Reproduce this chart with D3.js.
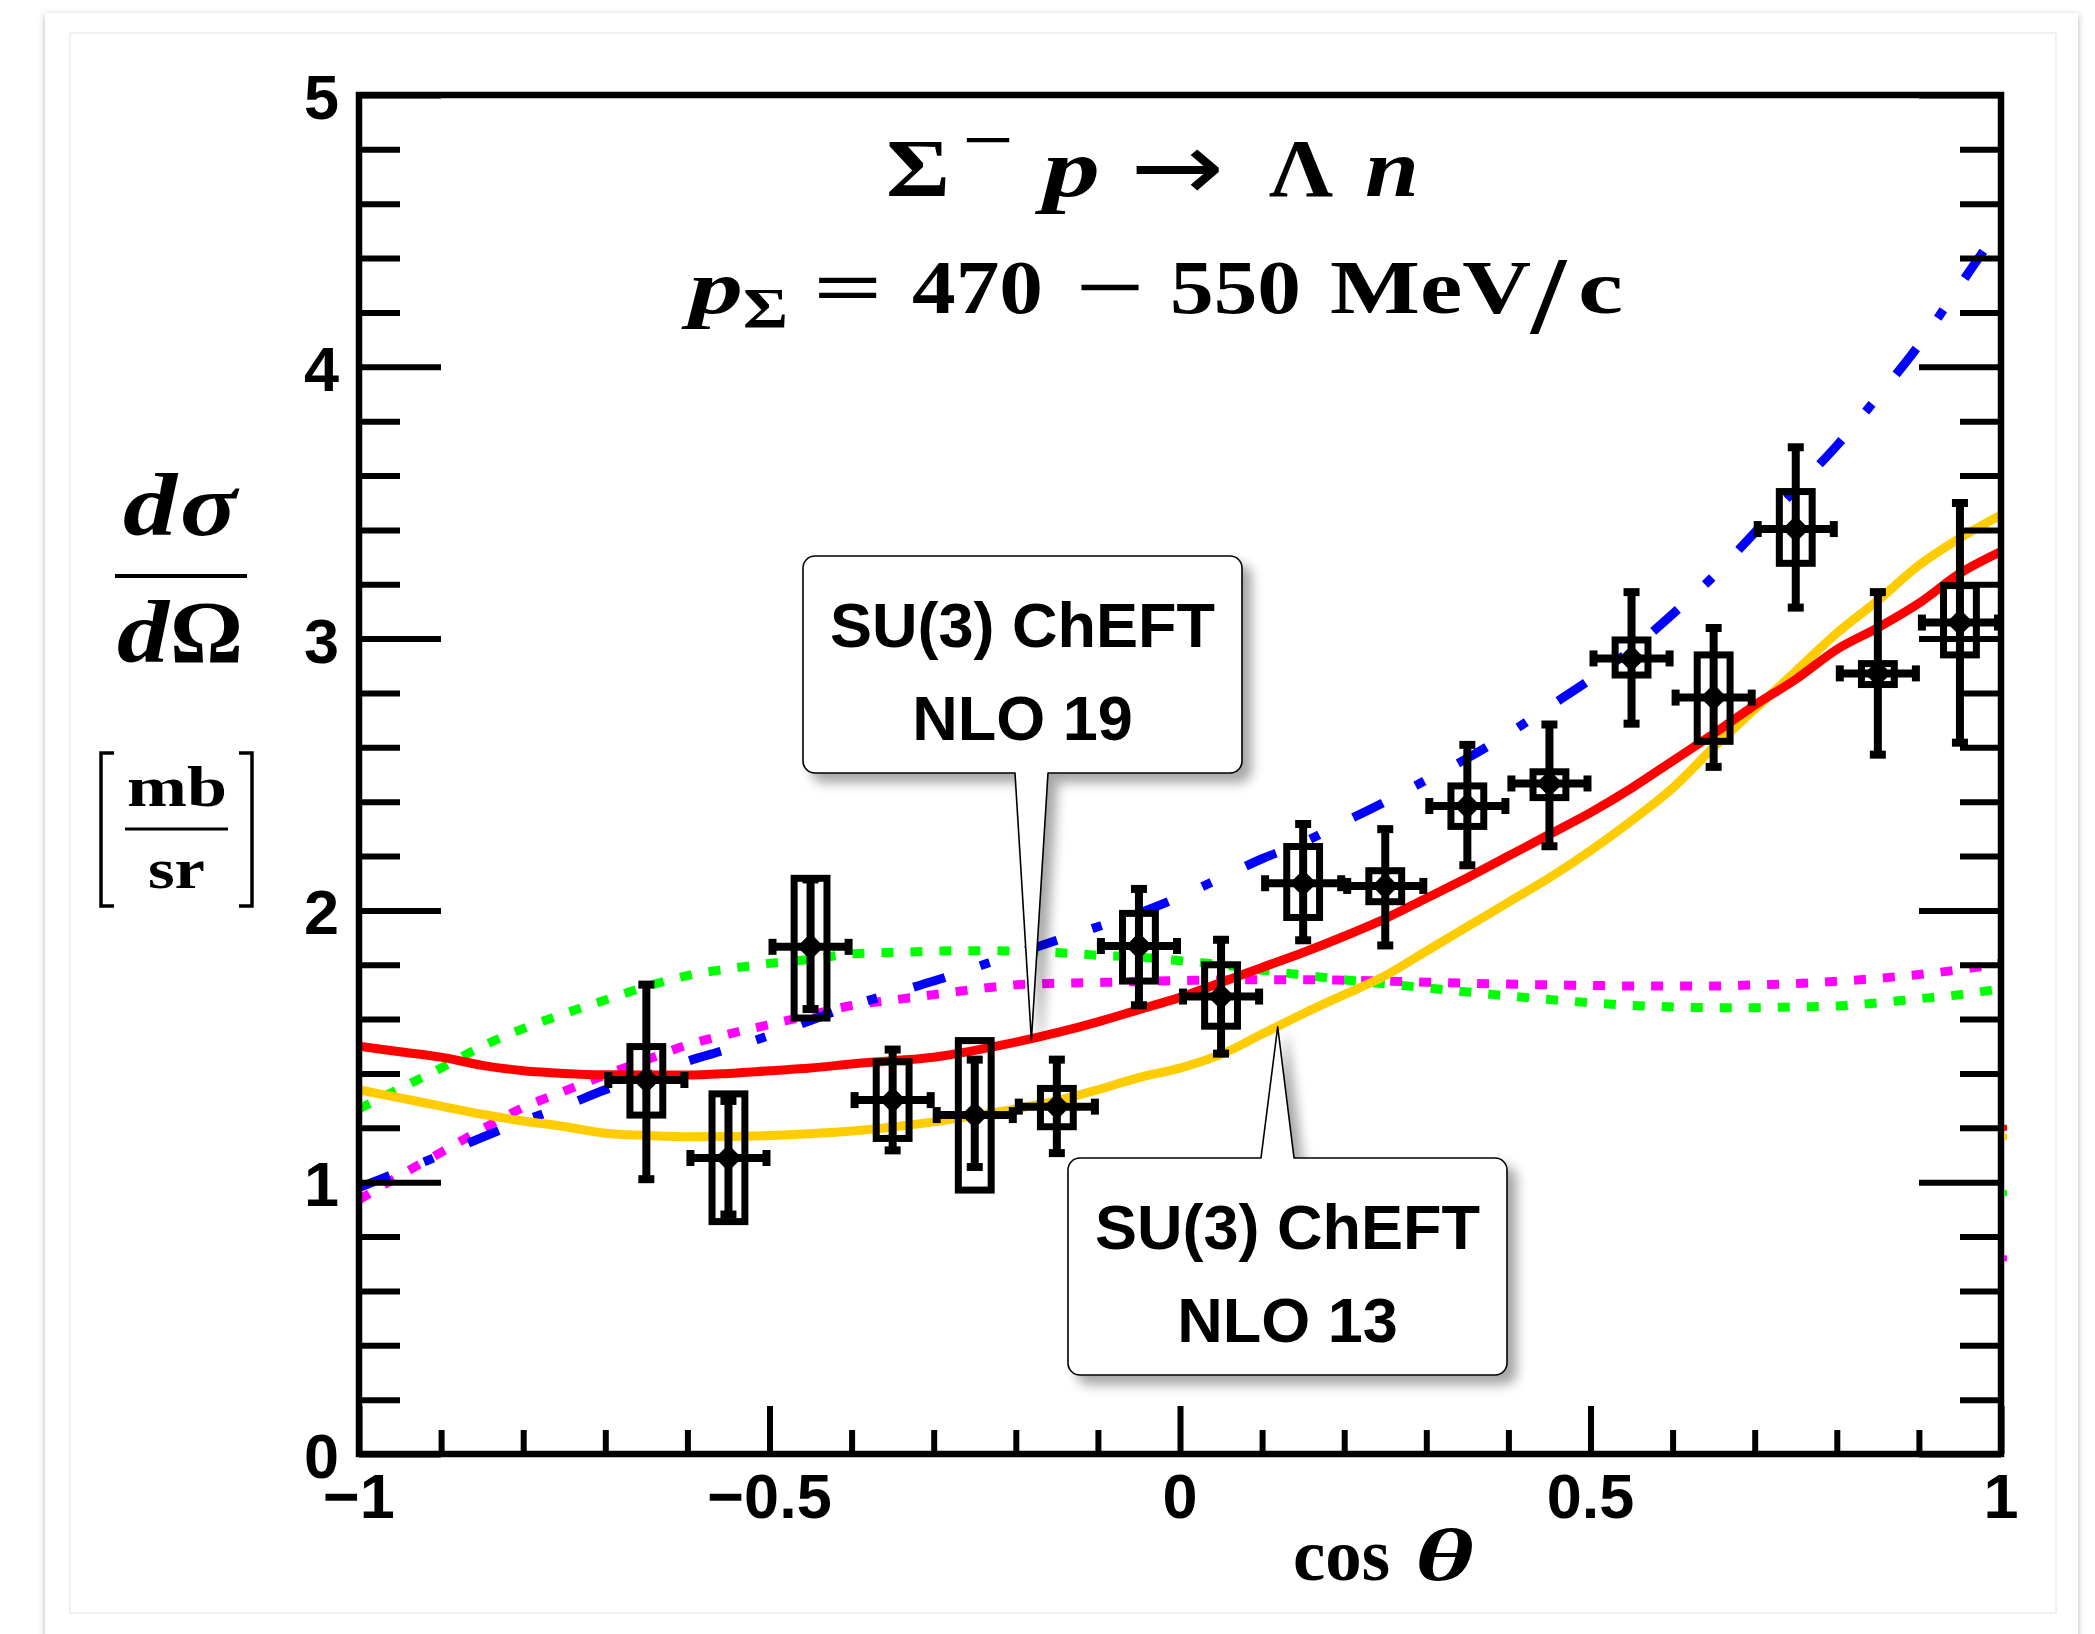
<!DOCTYPE html>
<html lang="en">
<head>
<meta charset="UTF-8" />
<title>Sigma- p -> Lambda n, differential cross section</title>
<script src="https://d3js.org/d3.v7.min.js"></script>
<style>
body {
    margin: 0;
    padding: 0;
    background: #fff;
}
svg { display: block; }
.tick-label {
    font-family: "Liberation Sans", Arial, Helvetica, sans-serif;
    font-weight: bold;
    font-size: 63px;
    fill: #000;
}
.math {
    font-family: "Liberation Serif", "Times New Roman", serif;
    font-weight: bold;
    fill: #000;
}
.callout-text {
    font-family: "Liberation Sans", Arial, Helvetica, sans-serif;
    font-weight: bold;
    font-size: 63px;
    fill: #000;
}
</style>
</head>
<body>
<svg id="chart" width="2095" height="1634"></svg>

<script>
// ---- data ----
const curveX = [-1.00, -0.95, -0.90, -0.85, -0.80, -0.75, -0.70, -0.65, -0.60, -0.55, -0.50,
                -0.45, -0.40, -0.35, -0.30, -0.25, -0.20, -0.15, -0.10, -0.05, 0.00,
                 0.05,  0.10,  0.15,  0.20,  0.25,  0.30,  0.35,  0.40,  0.45, 0.50,
                 0.55,  0.60,  0.65,  0.70,  0.75,  0.80,  0.85,  0.90,  0.95, 1.00];

// SU(3) ChEFT NLO19 (red)
const nlo19 = [1.50, 1.48, 1.46, 1.43, 1.41, 1.40, 1.395, 1.394, 1.394, 1.40, 1.41,
               1.42, 1.435, 1.447, 1.46, 1.485, 1.515, 1.55, 1.59, 1.635, 1.68,
               1.735, 1.79, 1.845, 1.905, 1.97, 2.045, 2.12, 2.20, 2.28, 2.36,
               2.45, 2.55, 2.65, 2.755, 2.85, 2.96, 3.04, 3.13, 3.24, 3.32];

// SU(3) ChEFT NLO13 (yellow)
const nlo13 = [1.34, 1.31, 1.28, 1.25, 1.225, 1.205, 1.18, 1.172, 1.167, 1.168, 1.172,
               1.178, 1.188, 1.203, 1.222, 1.245, 1.27, 1.30, 1.34, 1.385, 1.42,
               1.47, 1.545, 1.62, 1.69, 1.76, 1.85, 1.94, 2.03, 2.12, 2.22,
               2.33, 2.45, 2.60, 2.74, 2.88, 3.02, 3.14, 3.27, 3.37, 3.455];

// other models (blue dash-dot, green dotted, magenta dotted)
const modelBlue = [0.98, 1.04, 1.10, 1.165, 1.225, 1.28, 1.34, 1.39, 1.445, 1.49, 1.54,
                   1.595, 1.65, 1.695, 1.74, 1.79, 1.84, 1.89, 1.94, 1.99, 2.05,
                   2.12, 2.19, 2.25, 2.325, 2.40, 2.48, 2.56, 2.65, 2.75, 2.85,
                   2.96, 3.09, 3.23, 3.39, 3.55, 3.71, 3.89, 4.08, 4.30, 4.52];

const modelGreen = [1.27, 1.345, 1.42, 1.50, 1.565, 1.62, 1.67, 1.72, 1.76, 1.785, 1.805,
                    1.82, 1.84, 1.845, 1.85, 1.852, 1.85, 1.845, 1.835, 1.828, 1.815,
                    1.80, 1.78, 1.762, 1.745, 1.73, 1.715, 1.70, 1.685, 1.672, 1.66,
                    1.65, 1.645, 1.642, 1.642, 1.645, 1.648, 1.66, 1.675, 1.69, 1.712];

const modelMagenta = [0.935, 1.025, 1.11, 1.195, 1.275, 1.335, 1.395, 1.45, 1.505, 1.545, 1.58,
                      1.615, 1.65, 1.67, 1.69, 1.71, 1.726, 1.732, 1.735, 1.738, 1.742,
                      1.744, 1.745, 1.745, 1.743, 1.74, 1.736, 1.732, 1.729, 1.726, 1.724,
                      1.722, 1.722, 1.722, 1.726, 1.731, 1.739, 1.75, 1.764, 1.782, 1.806];

// experimental points
const binCenters = [-0.65, -0.55, -0.45, -0.35, -0.25, -0.15, -0.05, 0.05, 0.15,
                     0.25, 0.35, 0.45, 0.55, 0.65, 0.75, 0.85, 0.95];
const binHalfWidth = 0.05;
const xsValue  = [1.376, 1.089, 1.866, 1.302, 1.247, 1.278, 1.869, 1.683, 2.100,
                  2.090, 2.384, 2.467, 2.927, 2.783, 3.403, 2.872, 3.059];
const statLow  = [1.000, 0.870, 1.626, 1.106, 1.045, 1.096, 1.640, 1.462, 1.879,
                  1.860, 2.155, 2.225, 2.676, 2.517, 3.103, 2.562, 2.606];
const statHigh = [1.738, 1.310, 2.125, 1.499, 1.462, 1.462, 2.090, 1.903, 2.329,
                  2.310, 2.620, 2.695, 3.182, 3.050, 3.715, 3.182, 3.510];
const sysLow   = [1.247, 0.855, 1.604, 1.161, 0.971, 1.204, 1.740, 1.574, 1.974,
                  2.032, 2.309, 2.415, 2.866, 2.622, 3.277, 2.831, 2.940];
const sysHigh  = [1.499, 1.325, 2.118, 1.443, 1.521, 1.345, 1.989, 1.800, 2.235,
                  2.146, 2.458, 2.510, 2.995, 2.940, 3.541, 2.908, 3.195];

// tiny curve stubs sticking out past cos(theta) = 1
const edgeValues = [1.20, 1.167, 0.96, 0.72];
const edgeColors = ["#ff0000", "#ffcc00", "#00ff00", "#ff00ff"];

const xMajorTicks = [-1, -0.5, 0, 0.5, 1];
const xTickLabels = ["\u22121", "\u22120.5", "0", "0.5", "1"];
const xMinorTicks = [-0.9, -0.8, -0.7, -0.6, -0.4, -0.3, -0.2, -0.1,
                      0.1, 0.2, 0.3, 0.4, 0.6, 0.7, 0.8, 0.9];
const yMajorTicks = [0, 1, 2, 3, 4, 5];
const yTickLabels = ["0", "1", "2", "3", "4", "5"];
const yMinorTicks = [0.2, 0.4, 0.6, 0.8, 1.2, 1.4, 1.6, 1.8, 2.2, 2.4, 2.6, 2.8,
                     3.2, 3.4, 3.6, 3.8, 4.2, 4.4, 4.6, 4.8];

// ---- layout ----
const svg = d3.select("#chart");
const plot = { left: 359, right: 2001, top: 95, bottom: 1454 };

const x = d3.scaleLinear().domain([-1, 1]).range([plot.left, plot.right]);
const y = d3.scaleLinear().domain([0, 5]).range([plot.bottom, plot.top]);

const defs = svg.append("defs");
defs.append("clipPath").attr("id", "plot-clip")
    .append("rect")
    .attr("x", plot.left).attr("y", plot.top)
    .attr("width", plot.right - plot.left).attr("height", plot.bottom - plot.top);

defs.append("filter").attr("id", "card-shadow")
    .attr("x", "-5%").attr("y", "-5%").attr("width", "110%").attr("height", "110%")
    .append("feDropShadow")
    .attr("dx", 0).attr("dy", 2).attr("stdDeviation", 3)
    .attr("flood-color", "#000").attr("flood-opacity", 0.3);

defs.append("filter").attr("id", "callout-shadow")
    .attr("x", "-20%").attr("y", "-20%").attr("width", "140%").attr("height", "140%")
    .append("feDropShadow")
    .attr("dx", 9).attr("dy", 9).attr("stdDeviation", 6)
    .attr("flood-color", "#000").attr("flood-opacity", 0.35);

// page card
svg.append("rect").attr("width", 2095).attr("height", 1634).attr("fill", "#fff");
svg.append("rect")
    .attr("x", 45).attr("y", 13).attr("width", 2033).attr("height", 1680)
    .attr("fill", "#fff")
    .attr("filter", "url(#card-shadow)");
svg.append("rect")
    .attr("x", 70).attr("y", 33).attr("width", 1986).attr("height", 1580)
    .attr("fill", "none").attr("stroke", "#f0f0f0").attr("stroke-width", 2);

// ---- curves ----
const curves = [
    { values: modelGreen,   color: "#00ff00", dash: "12,17" },
    { values: modelMagenta, color: "#ff00ff", dash: "12,17" },
    { values: modelBlue,    color: "#0000ff", dash: "33,37,10,38" },
    { values: nlo13,        color: "#ffcc00", dash: null },
    { values: nlo19,        color: "#ff0000", dash: null }
];

const line = d3.line()
    .x(d => x(d[0]))
    .y(d => y(d[1]))
    .curve(d3.curveMonotoneX);

const curveLayer = svg.append("g").attr("clip-path", "url(#plot-clip)");
curves.forEach(c => {
    curveLayer.append("path")
        .datum(curveX.map((cx, i) => [cx, c.values[i]]))
        .attr("d", line)
        .attr("fill", "none")
        .attr("stroke", c.color)
        .attr("stroke-width", 9)
        .attr("stroke-dasharray", c.dash)
        .attr("stroke-linecap", "butt");
});

// ---- data points ----
const points = binCenters.map((c, i) => ({
    c, v: xsValue[i], sLo: statLow[i], sHi: statHigh[i], bLo: sysLow[i], bHi: sysHigh[i]
}));

const capHalf = 8;
const boxHalf = 0.02;
const markerR = 12;
const pts = svg.append("g");

const pg = pts.selectAll("g.pt").data(points).enter().append("g")
    .attr("class", "pt")
    .attr("stroke", "#000")
    .attr("stroke-width", 8)
    .attr("fill", "none");

// systematic boxes
pg.append("rect")
    .attr("x", d => x(d.c - boxHalf))
    .attr("width", d => x(d.c + boxHalf) - x(d.c - boxHalf))
    .attr("y", d => y(d.bHi))
    .attr("height", d => y(d.bLo) - y(d.bHi))
    .attr("stroke-width", 7);

// vertical stat error
pg.append("line")
    .attr("x1", d => x(d.c)).attr("x2", d => x(d.c))
    .attr("y1", d => y(d.sLo)).attr("y2", d => y(d.sHi));
pg.append("line")
    .attr("x1", d => x(d.c) - capHalf).attr("x2", d => x(d.c) + capHalf)
    .attr("y1", d => y(d.sLo) - 3).attr("y2", d => y(d.sLo) - 3);
pg.append("line")
    .attr("x1", d => x(d.c) - capHalf).attr("x2", d => x(d.c) + capHalf)
    .attr("y1", d => y(d.sHi) + 3).attr("y2", d => y(d.sHi) + 3);

// horizontal bin width
pg.append("line")
    .attr("x1", d => x(d.c - binHalfWidth)).attr("x2", d => x(d.c + binHalfWidth))
    .attr("y1", d => y(d.v)).attr("y2", d => y(d.v));
pg.append("line")
    .attr("x1", d => x(d.c - binHalfWidth) + 3).attr("x2", d => x(d.c - binHalfWidth) + 3)
    .attr("y1", d => y(d.v) - capHalf).attr("y2", d => y(d.v) + capHalf);
pg.append("line")
    .attr("x1", d => x(d.c + binHalfWidth) - 3).attr("x2", d => x(d.c + binHalfWidth) - 3)
    .attr("y1", d => y(d.v) - capHalf).attr("y2", d => y(d.v) + capHalf);

// diamond markers
pg.append("path")
    .attr("d", d => {
        const p = d3.path(), cx = x(d.c), cy = y(d.v);
        p.moveTo(cx, cy - markerR);
        p.lineTo(cx + markerR, cy);
        p.lineTo(cx, cy + markerR);
        p.lineTo(cx - markerR, cy);
        p.closePath();
        return p.toString();
    })
    .attr("fill", "#000")
    .attr("stroke", "#000")
    .attr("stroke-width", 2)
    .attr("stroke-linejoin", "round");

// ---- frame and ticks ----
function styleAxis(g) {
    g.select(".domain").remove();
    g.selectAll(".tick line").attr("stroke", "#000").attr("stroke-width", 6);
    g.selectAll(".tick text").remove();
}

svg.append("g").attr("transform", `translate(${plot.left},0)`)
    .call(d3.axisLeft(y).tickValues(yMajorTicks).tickSize(-82)).call(styleAxis);
svg.append("g").attr("transform", `translate(${plot.left},0)`)
    .call(d3.axisLeft(y).tickValues(yMinorTicks).tickSize(-41)).call(styleAxis);
svg.append("g").attr("transform", `translate(${plot.right},0)`)
    .call(d3.axisRight(y).tickValues(yMajorTicks).tickSize(-82)).call(styleAxis);
svg.append("g").attr("transform", `translate(${plot.right},0)`)
    .call(d3.axisRight(y).tickValues(yMinorTicks).tickSize(-41)).call(styleAxis);
svg.append("g").attr("transform", `translate(0,${plot.bottom})`)
    .call(d3.axisBottom(x).tickValues(xMajorTicks).tickSize(-48)).call(styleAxis);
svg.append("g").attr("transform", `translate(0,${plot.bottom})`)
    .call(d3.axisBottom(x).tickValues(xMinorTicks).tickSize(-24)).call(styleAxis);

svg.append("rect")
    .attr("x", plot.left).attr("y", plot.top)
    .attr("width", plot.right - plot.left).attr("height", plot.bottom - plot.top)
    .attr("fill", "none").attr("stroke", "#000").attr("stroke-width", 6.5);

// curve stubs at the right edge
svg.append("g").selectAll("rect").data(edgeValues).enter().append("rect")
    .attr("x", x(1) + 3).attr("y", d => y(d) - 3)
    .attr("width", 3).attr("height", 6)
    .attr("fill", (d, i) => edgeColors[i]);

// tick labels
svg.append("g").selectAll("text").data(yMajorTicks).enter().append("text")
    .attr("class", "tick-label")
    .attr("x", plot.left - 20)
    .attr("y", d => y(d) + 24)
    .attr("text-anchor", "end")
    .text((d, i) => yTickLabels[i]);

svg.append("g").selectAll("text").data(xMajorTicks).enter().append("text")
    .attr("class", "tick-label")
    .attr("x", d => x(d))
    .attr("y", plot.bottom + 64)
    .attr("text-anchor", "middle")
    .text((d, i) => xTickLabels[i]);

// ---- math texts ----
function mathText(str, px, py, size, width, italic) {
    const t = svg.append("text")
        .attr("class", "math")
        .attr("x", px).attr("y", py)
        .attr("font-size", size)
        .attr("font-style", italic ? "italic" : "normal")
        .text(str);
    if (width) t.attr("textLength", width).attr("lengthAdjust", "spacingAndGlyphs");
    return t;
}

// title line 1: Σ⁻ p → Λ n
mathText("\u03A3", 886, 196, 82, 64, false);
mathText("\u2212", 962, 160, 60, 52, false);
mathText("p", 1043, 196, 82, 57, true);
mathText("\u2192", 1130, 200, 96, 94, false)
    .style("font-family", "'DejaVu Sans', sans-serif").style("font-weight", "normal");
mathText("\u039B", 1269, 196, 82, 64, false);
mathText("n", 1365, 196, 82, 54, true);

// title line 2: p_Σ = 470 − 550 MeV/c
mathText("p", 689, 313, 77, 54, true);
mathText("\u03A3", 743, 328, 56, 45, false);
mathText("=", 813, 313, 77, 70, false);
mathText("470", 912, 313, 77, 131, false);
mathText("\u2212", 1075, 313, 77, 70, false);
mathText("550", 1170, 313, 77, 131, false);
mathText("MeV", 1330, 313, 77, 201, false);
mathText("/", 1531, 333, 110, 35, false);
mathText("c", 1578, 313, 77, 45, false);

// y axis label: dσ / dΩ [mb/sr]
mathText("d", 123, 535, 88, 54, true);
mathText("\u03C3", 180, 535, 88, 57, true);
svg.append("line").attr("x1", 115).attr("x2", 247).attr("y1", 576).attr("y2", 576)
    .attr("stroke", "#000").attr("stroke-width", 4);
mathText("d", 117, 662, 88, 52, true);
mathText("\u03A9", 170, 662, 88, 73, false);

mathText("mb", 127, 806, 58, 100, false);
svg.append("line").attr("x1", 125).attr("x2", 228).attr("y1", 829).attr("y2", 829)
    .attr("stroke", "#000").attr("stroke-width", 3);
mathText("sr", 148, 888, 58, 57, false);
svg.append("path")
    .attr("d", d3.line()([[114, 753], [101, 753], [101, 906], [114, 906]]))
    .attr("fill", "none").attr("stroke", "#000").attr("stroke-width", 3.5);
svg.append("path")
    .attr("d", d3.line()([[239, 753], [252, 753], [252, 906], [239, 906]]))
    .attr("fill", "none").attr("stroke", "#000").attr("stroke-width", 3.5);

// x axis label: cos θ
mathText("cos", 1293, 1580, 74, 97, false);
mathText("\u03B8", 1415, 1580, 74, 59, true);

// ---- callouts ----
const callouts = [
    { lines: ["SU(3) ChEFT", "NLO 19"], box: [803, 556, 1242, 773], base: [1015, 1048],
      tipX: -0.181, tipY: 1.523, side: "bottom" },
    { lines: ["SU(3) ChEFT", "NLO 13"], box: [1068, 1158, 1507, 1375], base: [1261, 1294],
      tipX: 0.119, tipY: 1.572, side: "top" }
];

function calloutPath(c) {
    const [x0, y0, x1, y1] = c.box;
    const [bL, bR] = c.base;
    const tx = x(c.tipX), ty = y(c.tipY);
    const r = 12;
    const p = d3.path();
    p.moveTo(x0 + r, y0);
    if (c.side === "top") { p.lineTo(bL, y0); p.lineTo(tx, ty); p.lineTo(bR, y0); }
    p.lineTo(x1 - r, y0);
    p.arcTo(x1, y0, x1, y0 + r, r);
    p.lineTo(x1, y1 - r);
    p.arcTo(x1, y1, x1 - r, y1, r);
    if (c.side === "bottom") { p.lineTo(bR, y1); p.lineTo(tx, ty); p.lineTo(bL, y1); }
    p.lineTo(x0 + r, y1);
    p.arcTo(x0, y1, x0, y1 - r, r);
    p.lineTo(x0, y0 + r);
    p.arcTo(x0, y0, x0 + r, y0, r);
    p.closePath();
    return p.toString();
}

callouts.forEach(c => {
    const g = svg.append("g");
    g.append("path")
        .attr("d", calloutPath(c))
        .attr("fill", "#fff")
        .attr("stroke", "#000")
        .attr("stroke-width", 1.6)
        .attr("stroke-linejoin", "round")
        .attr("filter", "url(#callout-shadow)");
    const cx = (c.box[0] + c.box[2]) / 2;
    c.lines.forEach((ln, i) => {
        g.append("text")
            .attr("class", "callout-text")
            .attr("x", cx)
            .attr("y", c.box[1] + 91 + i * 93)
            .attr("text-anchor", "middle")
            .text(ln);
    });
});
</script>
</body>
</html>
